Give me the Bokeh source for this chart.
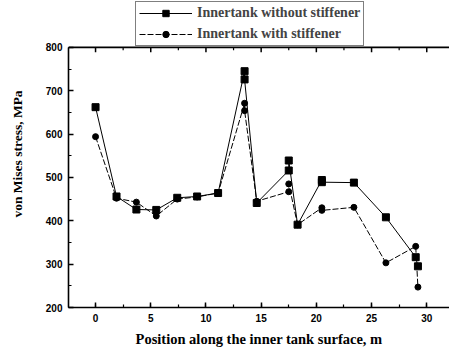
from bokeh.plotting import figure
from bokeh.models import Range1d, LinearAxis, SingleIntervalTicker, Legend, LegendItem, Span
from bokeh.embed import file_html
from bokeh.resources import INLINE

# Data
x_without = [0, 1.9, 3.7, 5.5, 7.4, 9.2, 11.1, 13.5, 13.5, 14.6, 17.5, 17.5, 18.3, 20.5, 20.5, 23.4, 26.3, 29.0, 29.2]
y_without = [662, 456, 426, 425, 453, 456, 464, 745, 726, 441, 516, 539, 391, 494, 489, 488, 408, 316, 295]

x_with = [0, 1.9, 3.7, 5.5, 7.4, 9.2, 11.1, 13.5, 13.5, 14.6, 17.5, 17.5, 18.3, 20.5, 20.5, 23.4, 26.3, 29.0, 29.2]
y_with = [594, 452, 443, 411, 450, 455, 464, 671, 654, 445, 467, 485, 391, 430, 424, 431, 303, 341, 247]

series_names = ["Innertank without stiffener", "Innertank with stiffener"]
x_label = "Position along the inner tank surface, m"
y_label = "von Mises stress, MPa"

y_min, y_max = 200, 800
top_major_ticks = [0, 5, 10, 15, 20, 25, 30]
top_minor_ticks = [-2.5, 2.5, 7.5, 12.5, 17.5, 22.5, 27.5]

p = figure(width=449, height=349, output_backend="svg", toolbar_location=None,
           x_range=Range1d(-2.45, 32.06), y_range=Range1d(200, 908),
           min_border_left=68, min_border_right=0, min_border_top=0, min_border_bottom=41,
           x_axis_type=None, y_axis_type=None)
p.xgrid.visible = False
p.ygrid.visible = False
p.outline_line_color = None
p.background_fill_color = "white"
p.border_fill_color = "white"

xt = SingleIntervalTicker(interval=5, num_minor_ticks=2)
yt = SingleIntervalTicker(interval=100, num_minor_ticks=2)

def style(ax):
    ax.major_tick_in = 5
    ax.major_tick_out = 0
    ax.minor_tick_in = 3
    ax.minor_tick_out = 0
    ax.axis_line_width = 1.6
    ax.major_tick_line_width = 1.5
    ax.minor_tick_line_width = 1.2
    ax.major_label_text_font = "Liberation Sans"
    ax.major_label_text_font_style = "bold"
    ax.major_label_text_font_size = "10px"
    ax.major_label_text_color = "black"
    ax.axis_label_text_font = "Liberation Serif"
    ax.axis_label_text_font_style = "bold"
    ax.axis_label_text_font_size = "14.5px"
    ax.axis_label_text_color = "black"

xaxis = LinearAxis(ticker=xt, axis_label=x_label)
style(xaxis)
xaxis.major_label_standoff = 6
xaxis.axis_label_standoff = 6
p.add_layout(xaxis, "below")

yaxis = LinearAxis(ticker=yt, axis_label=y_label, bounds=(y_min, y_max))
style(yaxis)
yaxis.axis_label_text_font_size = "13.5px"
yaxis.major_label_standoff = 6
yaxis.axis_label_standoff = 18
p.add_layout(yaxis, "left")

# top frame line with inward ticks
p.add_layout(Span(location=y_max, dimension="width", line_color="black", line_width=1.6))
p.segment(x0=top_major_ticks, y0=[y_max] * len(top_major_ticks), x1=top_major_ticks,
          y1=[y_max - 11.5] * len(top_major_ticks), line_color="black", line_width=1.5)
p.segment(x0=top_minor_ticks, y0=[y_max] * len(top_minor_ticks), x1=top_minor_ticks,
          y1=[y_max - 7] * len(top_minor_ticks), line_color="black", line_width=1.2)

l1 = p.line(x_without, y_without, line_color="black", line_width=1)
s1 = p.scatter(x_without, y_without, marker="square", size=7, fill_color="black", line_color="black")
l2 = p.line(x_with, y_with, line_color="black", line_width=1, line_dash="6 2")
s2 = p.scatter(x_with, y_with, marker="circle", size=6, fill_color="black", line_color="black")

legend = Legend(items=[LegendItem(label=series_names[0], renderers=[l1, s1]),
                       LegendItem(label=series_names[1], renderers=[l2, s2])],
                location=(67, 261), orientation="vertical", margin=0, padding=3, spacing=5,
                border_line_color="black", border_line_width=1.2,
                label_text_font="Liberation Serif", label_text_font_style="bold",
                label_text_font_size="14px", glyph_width=53, glyph_height=16, label_height=16,
                label_standoff=5)
p.add_layout(legend, "center")

open("out.html", "w").write(file_html(p, INLINE))
